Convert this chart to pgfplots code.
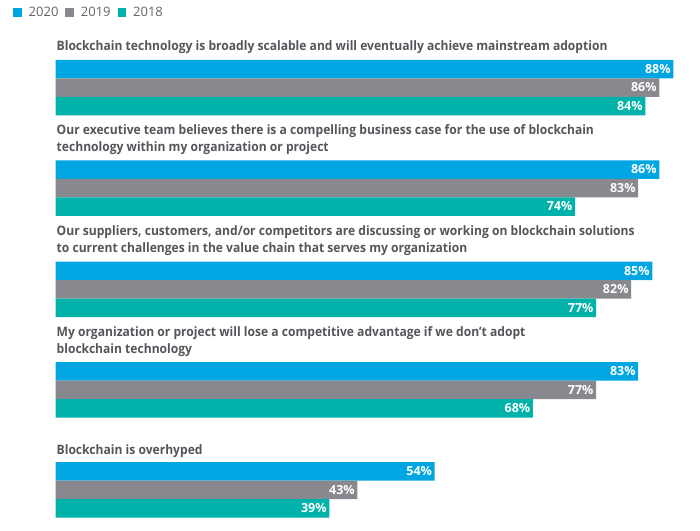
\documentclass[border=0pt]{standalone}
\usepackage{fontspec}
\setmainfont{Open Sans}
\newfontfamily\condfont[FakeStretch=0.93]{Open Sans}
\usepackage{pgfplots}
\pgfplotsset{compat=1.18}
\definecolor{cblue}{RGB}{0,166,226}
\definecolor{cgray}{RGB}{135,137,142}
\definecolor{cteal}{RGB}{0,178,169}
\definecolor{ttext}{RGB}{83,86,90}
\definecolor{ltext}{RGB}{100,100,104}
\begin{document}
\begin{tikzpicture}[x=1pt,y=1pt]
\path[use as bounding box] (0,0) rectangle (700,-530);
\begin{axis}[
  at={(55.5pt,0pt)}, anchor=north west,
  scale only axis, width=644.5pt, height=530pt,
  xmin=0, xmax=91.8, ymin=0, ymax=530, y dir=reverse,
  hide axis, clip=false,
  xbar, bar width=18.5, bar shift=0pt,
  /pgf/number format/assume math mode=true,
  nodes near coords={\pgfmathprintnumber{\pgfplotspointmeta}\%},
  point meta=x,
  every node near coord/.append style={anchor=east, xshift=-1pt, text=white,
     font=\bfseries\fontsize{12.5}{14}\selectfont, inner sep=1.5pt},
  legend style={draw=none, fill=none, inner sep=0pt,
     at={(axis description cs:0,1)}, anchor=north west, xshift=-42.5pt, yshift=-5pt,
     font=\fontsize{13}{15}\selectfont\color{ltext}, column sep=5pt},
  legend columns=3,
  legend image code/.code={\fill[#1,draw=none] (0pt,-4pt) rectangle (8.5pt,4.5pt);},
]
\addplot[fill=cblue, draw=none] coordinates {(88,69) (86,169.5) (85,270.75) (83,371.25) (54,471.25)};
\addplot[fill=cgray, draw=none] coordinates {(86,87.5) (83,188) (82,289.25) (77,389.75) (43,489.75)};
\addplot[fill=cteal, draw=none] coordinates {(84,106) (74,206.5) (77,307.75) (68,408.25) (39,508.25)};
\legend{2020,2019,2018}
\end{axis}
\begin{scope}[every node/.style={anchor=base west, inner sep=0pt, text=ttext,
   font=\condfont\bfseries\fontsize{13}{17}\selectfont}]
\node at (56.5,-50) {Blockchain technology is broadly scalable and will eventually achieve mainstream adoption};
\node at (56.5,-134.5) {Our executive team believes there is a compelling business case for the use of blockchain};
\node at (56.5,-151) {technology within my organization or project};
\node at (56.5,-235.5) {Our suppliers, customers, and/or competitors are discussing or working on blockchain solutions};
\node at (56.5,-252) {to current challenges in the value chain that serves my organization};
\node at (56.5,-336.5) {My organization or project will lose a competitive advantage if we don’t adopt};
\node at (56.5,-353) {blockchain technology};
\node at (56.5,-454.5) {Blockchain is overhyped};
\end{scope}
\end{tikzpicture}
\end{document}
